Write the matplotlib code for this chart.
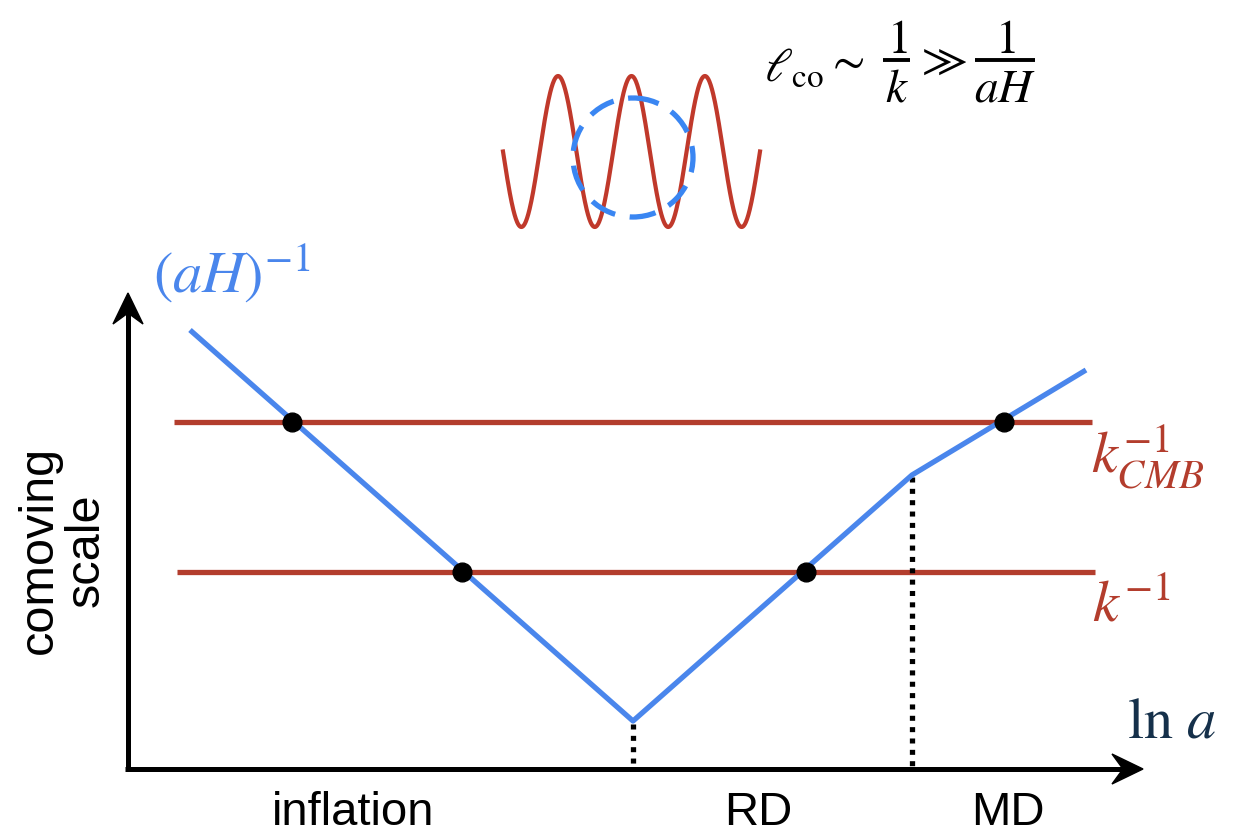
import numpy as np
import matplotlib
matplotlib.use("Agg")
import matplotlib.pyplot as plt
from matplotlib.patches import Ellipse, Polygon

plt.rcParams['mathtext.fontset'] = 'stix'
plt.rcParams['font.family'] = ['Liberation Sans', 'DejaVu Sans']

# ---- schematic data (canvas units, y grows downward) ----
horizon_x = [190, 633, 912, 1086]          # (aH)^-1 break points in ln a
horizon_y = [330, 721, 475, 370]
k_cmb_y = 422
k_cmb_x = [174, 1092]
k_y = 572
k_x = [177, 1095]
cross_x = [292, 462, 806, 1004]            # horizon crossings
cross_y = [422, 572, 572, 422]
transition_x = [633, 912]                  # end of inflation, matter-radiation equality
transition_top = [724, 477]
era_labels = ['inflation', 'RD', 'MD']
era_x = [353, 758, 1008]
wave_cycles = 3.5
wave_x_range = [503, 760]
wave_mid, wave_amp = 151.5, 75.5

BLUE = '#4a86ec'
RED = '#b33d2d'
NAVY = '#15304a'

fig = plt.figure(figsize=(12.4, 8.36), dpi=100)
ax = fig.add_axes([0, 0, 1, 1])
ax.set_xlim(0, 1240)
ax.set_ylim(836, 0)
ax.axis('off')

# axes with arrowheads
ax.plot([128, 128], [771, 308], color='black', lw=3.6, solid_capstyle='butt', zorder=3)
ax.plot([125, 1128], [769, 769], color='black', lw=3.6, solid_capstyle='butt', zorder=3)
ax.add_patch(Polygon([[128, 293], [113, 324], [128, 313], [143, 324]], closed=True,
                     color='black', zorder=3))
ax.add_patch(Polygon([[1143, 769], [1112, 754], [1123, 769], [1112, 784]], closed=True,
                     color='black', zorder=3))

# k lines
ax.plot(k_cmb_x, [k_cmb_y, k_cmb_y], color=RED, lw=3.8, solid_capstyle='butt', zorder=2)
ax.plot(k_x, [k_y, k_y], color=RED, lw=3.8, solid_capstyle='butt', zorder=2)

# horizon
ax.plot(horizon_x, horizon_y, color=BLUE, lw=3.8, solid_capstyle='butt', zorder=4)

# transitions (dotted)
for tx, tt in zip(transition_x, transition_top):
    ax.plot([tx, tx], [tt, 766], color='black', lw=3.8, linestyle=(0, (0.95, 1.2)),
            dash_capstyle='butt', zorder=3.5)

# crossing dots
ax.plot(cross_x, cross_y, 'o', color='black', markersize=13.5, zorder=5)

# labels
ax.text(153, 293, r'$(aH)^{-1}$', color=BLUE, fontsize=42, ha='left', va='baseline')
ax.text(1091, 473, r'$k_{CMB}^{-1}$', color=RED, fontsize=42, ha='left', va='baseline')
ax.text(1092, 621, r'$k^{-1}$', color=RED, fontsize=42, ha='left', va='baseline')
ax.text(1127, 738, r'$\ln\,a$', color=NAVY, fontsize=42, ha='left', va='baseline')

for lab, x in zip(era_labels, era_x):
    ax.text(x, 825, lab, fontsize=34, ha='center', va='baseline', color='black')

ax.text(63, 550, 'comoving\nscale', fontsize=35, rotation=90, ha='center', va='center',
        multialignment='center', linespacing=1.05, color='black')

# wave illustration
wx = np.linspace(wave_x_range[0], wave_x_range[1], 600)
phase = (wx - wave_x_range[0]) / (wave_x_range[1] - wave_x_range[0]) * wave_cycles
ax.plot(wx, wave_mid + wave_amp * np.sin(2 * np.pi * phase), color='#c0392b', lw=3.0, zorder=2)
ax.add_patch(Ellipse((633, 157.5), 120, 119, fill=False, edgecolor='#3a86f2', lw=3.8,
                     linestyle=(0, (5, 2.8)), zorder=3))

# formula  l_co ~ 1/k >> 1/(aH)
FS = 34
ax.text(764, 82, r'$\ell_{\mathrm{co}}$', fontsize=FS, ha='left', va='baseline')
ax.text(845, 62, r'$\sim$', fontsize=FS, ha='center', va='center')
ax.plot([883, 910], [60, 60], color='black', lw=2.8, solid_capstyle='butt')
ax.text(897, 53, r'$1$', fontsize=FS, ha='center', va='baseline')
ax.text(897, 102, r'$k$', fontsize=FS, ha='center', va='baseline')
ax.text(942, 62, r'$\gg$', fontsize=FS, ha='center', va='center')
ax.plot([975, 1035], [60, 60], color='black', lw=2.8, solid_capstyle='butt')
ax.text(1005, 53, r'$1$', fontsize=FS, ha='center', va='baseline')
ax.text(1005, 102, r'$aH$', fontsize=FS, ha='center', va='baseline')

fig.savefig('out.png', dpi=100)
